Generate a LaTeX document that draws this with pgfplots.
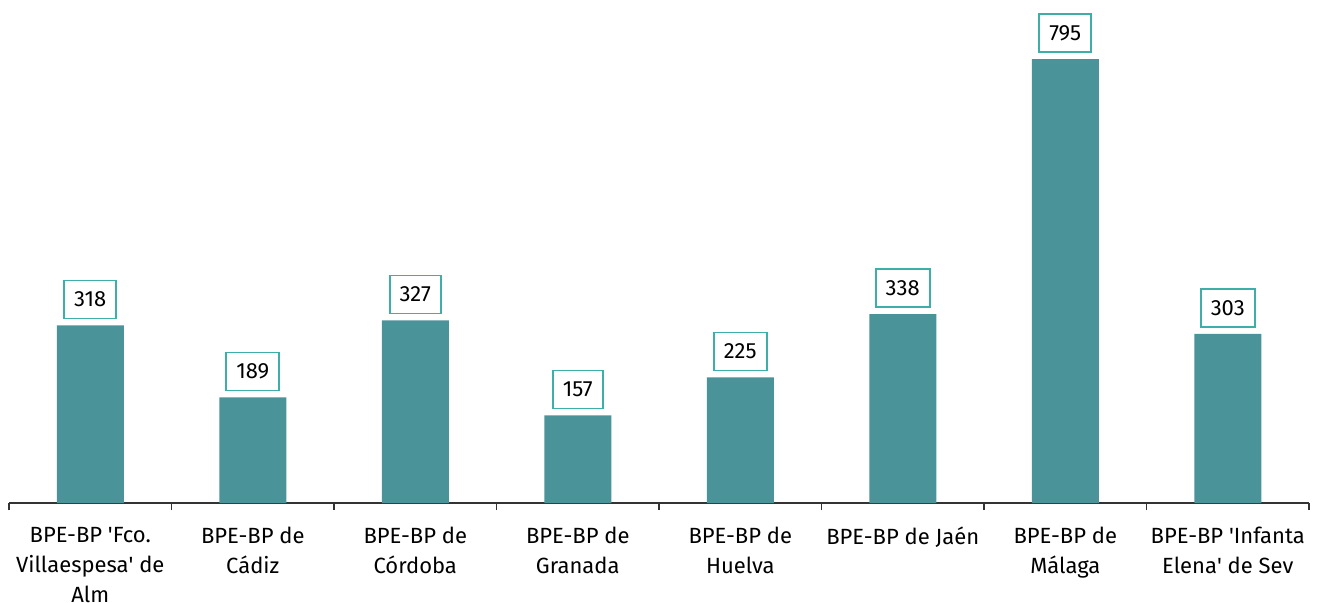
\documentclass[border=0pt]{standalone}
\usepackage{pgfplots}
\pgfplotsset{compat=1.18}
\usepackage{fontspec}
\setmainfont{Fira Sans}
\definecolor{barc}{HTML}{4A9499}
\definecolor{boxc}{HTML}{3DAEA8}
\definecolor{axc}{HTML}{333333}

\begin{document}
\begin{tikzpicture}
\useasboundingbox (-4.5pt,-49.5pt) rectangle (656.5pt,251.5pt);
\begin{axis}[
  at={(0,0)}, anchor=south west,
  scale only axis, width=650pt, height=223.4pt,
  xmin=-0.5, xmax=7.5, ymin=0, ymax=800,
  axis x line=bottom, axis y line=none,
  axis line style={axc, line width=0.6pt, -},
  xtick={0,...,7},
  xticklabels={{BPE-BP \textquotesingle Fco.\\Villaespesa\textquotesingle{} de\\Alm},{BPE-BP de\\Cádiz},{BPE-BP de\\Córdoba},{BPE-BP de\\Granada},{BPE-BP de\\Huelva},{BPE-BP de Jaén},{BPE-BP de\\Málaga},{BPE-BP \textquotesingle Infanta\\Elena\textquotesingle{} de Sev}},
  major tick length=0pt,
  minor xtick={-0.5,0.5,...,7.5},
  minor tick length=3.5pt,
  tick align=outside,
  minor tick style={axc, line width=0.6pt},
  xticklabel style={align=center, font=\fontsize{11}{15}\selectfont, yshift=-8.5pt, text=black},
  ybar, bar width=33.5pt,
  nodes near coords,
  /pgf/number format/assume math mode=true,
  nodes near coords style={draw=boxc, line width=0.9pt, fill=white, inner xsep=5pt,
    minimum height=19pt, anchor=south, yshift=3pt, text=black, font=\fontsize{11}{12}\selectfont},
  clip=false,
]
\addplot[fill=barc, draw=none] coordinates {
  (0,318) (1,189) (2,327) (3,157) (4,225) (5,338) (6,795) (7,303)
};
\end{axis}
\end{tikzpicture}
\end{document}
